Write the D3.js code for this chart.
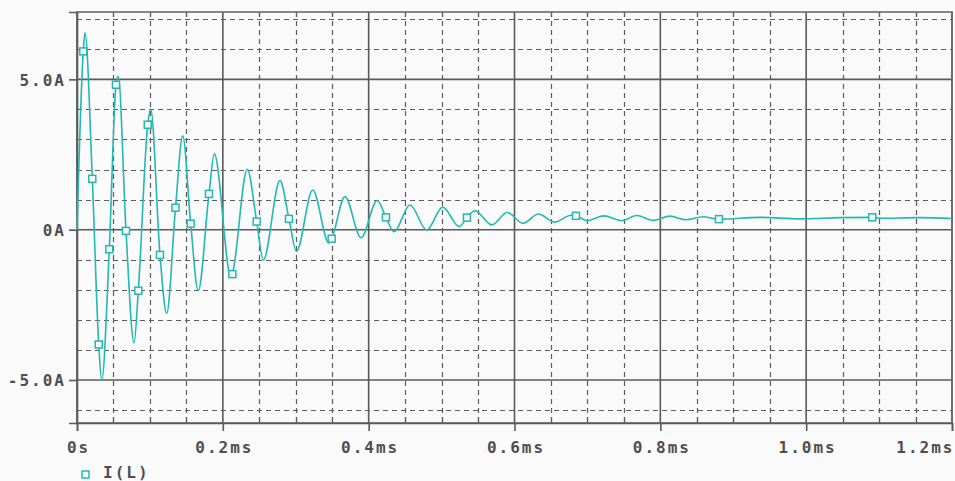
<!DOCTYPE html>
<html>
<head>
<meta charset="utf-8">
<script src="https://cdn.jsdelivr.net/npm/d3@7"></script>
<style>
  body { margin: 0; background: #fafafa; }
  svg { display: block; }
  text { font-family: "DejaVu Sans Mono", monospace; font-weight: bold; fill: #4e4e4e; }
</style>
</head>
<body>
<div id="chart"></div>
<script>
// I(L) trace: time in ms, current in A
// (mostly the peaks and troughs of the ringing, then the settled tail)
var traceTime = [0, 0.0110, 0.0339, 0.0566, 0.0782, 0.1011, 0.1230, 0.1450, 0.1663, 0.1883,
  0.2112, 0.2335, 0.2555, 0.2784, 0.3010, 0.3232, 0.3456, 0.3675, 0.3895, 0.4118,
  0.4347, 0.4567, 0.4796, 0.5015, 0.5243, 0.5458, 0.5687, 0.5901, 0.6120, 0.6326,
  0.6555, 0.6774, 0.6994, 0.7227, 0.7470, 0.7676, 0.7903, 0.8132, 0.8352, 0.8585,
  0.9366, 0.9915, 1.0463, 1.1012, 1.1560, 1.2];
var traceCurrent = [0, 6.55, -5.01, 5.10, -3.77, 4.01, -2.79, 3.12, -2.03, 2.52,
  -1.58, 2.01, -1.01, 1.63, -0.72, 1.32, -0.45, 1.10, -0.27, 0.97,
  -0.07, 0.82, -0.01, 0.75, 0.10, 0.63, 0.16, 0.57, 0.21, 0.52,
  0.25, 0.48, 0.30, 0.46, 0.30, 0.47, 0.31, 0.45, 0.33, 0.43,
  0.41, 0.36, 0.40, 0.38, 0.40, 0.37];

// the little square markers PSpice puts on the trace
var markerTime = [0.0086, 0.0210, 0.0298, 0.0443, 0.0535, 0.0672, 0.0841, 0.0970, 0.1138, 0.1351,
  0.1559, 0.1810, 0.2130, 0.2464, 0.2907, 0.3493, 0.4237, 0.5348, 0.6843, 0.8804, 1.0906];
var markerCurrent = [5.93, 1.69, -3.82, -0.65, 4.82, -0.04, -2.03, 3.49, -0.84, 0.73,
  0.20, 1.19, -1.48, 0.27, 0.36, -0.30, 0.41, 0.40, 0.46, 0.35, 0.41];

// axes
var xTicks = [0, 0.2, 0.4, 0.6, 0.8, 1.0, 1.2];
var xTickLabels = ["0s", "0.2ms", "0.4ms", "0.6ms", "0.8ms", "1.0ms", "1.2ms"];
var yTicks = [-5, 0, 5];
var yTickLabels = ["-5.0A", "0A", "5.0A"];
var legendLabel = "I(L)";

var width = 955, height = 481;
var plotLeft = 77, plotRight = 952, plotTop = 12, plotBottom = 423;
var traceColor = "#22b8b3";
var gridColor = "#5c5c5c";

var svg = d3.select("#chart").append("svg")
  .attr("width", width)
  .attr("height", height);

svg.append("rect").attr("width", width).attr("height", height).attr("fill", "#fafafa");

var x = d3.scaleLinear().domain([0, 1.2]).range([plotLeft, plotRight]);
var y = d3.scaleLinear().domain([-6.43, 7.24]).range([plotBottom, plotTop]);

// minor grid: dashed, every 0.05ms and every 1A
var xMinor = d3.range(0.05, 1.2, 0.05).filter(v => Math.abs(v / 0.2 - Math.round(v / 0.2)) > 0.01);
var yMinor = d3.range(-6, 8, 1).filter(v => v % 5 != 0);

var grid = svg.append("g");
grid.selectAll("line.vminor")
  .data(xMinor)
  .enter().append("line")
    .attr("x1", d => Math.round(x(d)) + 0.5).attr("x2", d => Math.round(x(d)) + 0.5)
    .attr("y1", plotTop).attr("y2", plotBottom)
    .attr("stroke", gridColor).attr("stroke-width", 1.2)
    .attr("stroke-dasharray", "5,4");
grid.selectAll("line.hminor")
  .data(yMinor)
  .enter().append("line")
    .attr("y1", d => Math.round(y(d)) + 0.5).attr("y2", d => Math.round(y(d)) + 0.5)
    .attr("x1", plotLeft).attr("x2", plotRight)
    .attr("stroke", gridColor).attr("stroke-width", 1.2)
    .attr("stroke-dasharray", "5,4");

// small inward ticks on the frame at the minor positions
grid.selectAll("line.tb")
  .data(xMinor)
  .enter().append("line")
    .attr("x1", d => Math.round(x(d)) + 0.5).attr("x2", d => Math.round(x(d)) + 0.5)
    .attr("y1", plotBottom - 6).attr("y2", plotBottom)
    .attr("stroke", gridColor).attr("stroke-width", 1.2);
grid.selectAll("line.tt")
  .data(xMinor)
  .enter().append("line")
    .attr("x1", d => Math.round(x(d)) + 0.5).attr("x2", d => Math.round(x(d)) + 0.5)
    .attr("y1", plotTop).attr("y2", plotTop + 5)
    .attr("stroke", gridColor).attr("stroke-width", 1.2);

// major grid: solid
grid.selectAll("line.vmajor")
  .data(xTicks)
  .enter().append("line")
    .attr("x1", d => x(d)).attr("x2", d => x(d))
    .attr("y1", plotTop).attr("y2", plotBottom)
    .attr("stroke", "#5a5a5a").attr("stroke-width", 1.6);
grid.selectAll("line.hmajor")
  .data(yTicks)
  .enter().append("line")
    .attr("y1", d => y(d)).attr("y2", d => y(d))
    .attr("x1", plotLeft).attr("x2", plotRight)
    .attr("stroke", "#5a5a5a").attr("stroke-width", 1.6);

// frame
svg.append("rect")
  .attr("x", plotLeft).attr("y", plotTop)
  .attr("width", plotRight - plotLeft).attr("height", plotBottom - plotTop)
  .attr("fill", "none").attr("stroke", "#6a6a6a").attr("stroke-width", 1.6);

// axes with outward ticks
var xAxis = d3.axisBottom(x)
  .tickValues(xTicks)
  .tickSize(8)
  .tickFormat((d, i) => xTickLabels[i]);
var gx = svg.append("g")
  .attr("transform", "translate(0," + plotBottom + ")")
  .call(xAxis);
gx.select(".domain").attr("stroke", "#5a5a5a").attr("stroke-width", 1.6);
gx.selectAll(".tick line").attr("stroke", "#5a5a5a").attr("stroke-width", 1.6);
gx.selectAll(".tick text")
  .attr("y", 30).attr("dy", null)
  .attr("font-size", 16).attr("letter-spacing", "2px")
  .style("font-family", "DejaVu Sans Mono, monospace")
  .style("font-weight", "bold").attr("fill", "#4e4e4e")
  .attr("text-anchor", (d, i) => i == xTicks.length - 1 ? "end" : "middle")
  .attr("dx", (d, i) => i == xTicks.length - 1 ? 2 : 1);

var yAxis = d3.axisLeft(y)
  .tickValues(yTicks)
  .tickSize(8)
  .tickFormat(d => yTickLabels[yTicks.indexOf(d)]);
var gy = svg.append("g")
  .attr("transform", "translate(" + plotLeft + ",0)")
  .call(yAxis);
gy.select(".domain").attr("stroke", "#5a5a5a").attr("stroke-width", 1.6);
gy.selectAll(".tick line").attr("stroke", "#5a5a5a").attr("stroke-width", 1.6);
gy.selectAll(".tick text")
  .attr("x", -11).attr("dy", "0.36em")
  .attr("font-size", 16).attr("letter-spacing", "2px")
  .style("font-family", "DejaVu Sans Mono, monospace")
  .style("font-weight", "bold").attr("fill", "#4e4e4e");

// the trace goes through the peaks and through the marker points
var points = traceTime.map((t, i) => [t, traceCurrent[i]])
  .concat(markerTime.map((t, i) => [t, markerCurrent[i]]))
  .sort((a, b) => a[0] - b[0]);

var line = d3.line()
  .x(d => x(d[0]))
  .y(d => y(d[1]))
  .curve(d3.curveMonotoneX);

svg.append("path")
  .datum(points)
  .attr("d", line)
  .attr("fill", "none")
  .attr("stroke", traceColor)
  .attr("stroke-width", 1.6);

svg.selectAll("rect.marker")
  .data(markerTime)
  .enter().append("rect")
    .attr("class", "marker")
    .attr("x", (d, i) => x(d) - 3.5)
    .attr("y", (d, i) => y(markerCurrent[i]) - 3.5)
    .attr("width", 7).attr("height", 7)
    .attr("fill", "#fafafa")
    .attr("stroke", traceColor).attr("stroke-width", 1.5);

// legend
svg.append("rect")
  .attr("x", 82).attr("y", 471)
  .attr("width", 7).attr("height", 7)
  .attr("fill", "#fafafa")
  .attr("stroke", traceColor).attr("stroke-width", 1.5);
svg.append("text")
  .attr("x", 103).attr("y", 478)
  .attr("font-size", 16).attr("letter-spacing", "2px")
  .text(legendLabel);
</script>
</body>
</html>
